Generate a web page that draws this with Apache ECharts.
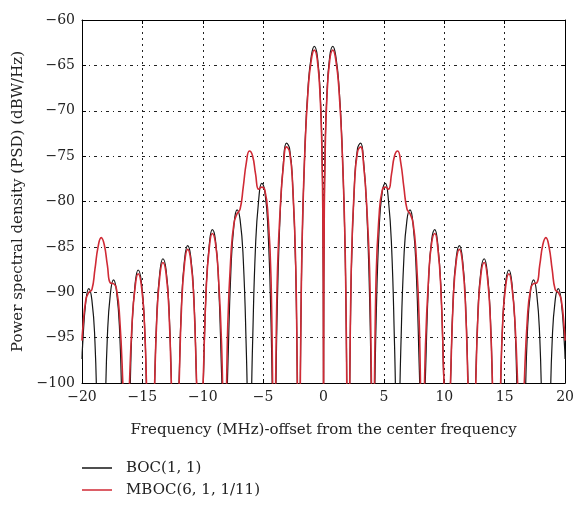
<!DOCTYPE html>
<html><head><meta charset="utf-8">
<script src="https://cdn.jsdelivr.net/npm/echarts@6/dist/echarts.min.js"></script>
<style>html,body{margin:0;padding:0;background:#fff}#c{width:577px;height:505px}</style>
</head><body><div id="c"></div>
<script>
// Frequency offset (MHz)
const freq = [-20, -19.95, -19.69, -19.44, -19.18, -18.93, -18.67, -18.41, -18.16, -17.90, -17.65, -17.39, -17.14, -16.88, -16.62, -16.37, -16.11, -15.86, -15.60, -15.35, -15.09, -14.83, -14.58, -14.32, -14.07, -13.81, -13.56, -13.30, -13.04, -12.79, -12.53, -12.28, -12.02, -11.76, -11.51, -11.25, -11.00, -10.74, -10.49, -10.23, -9.97, -9.72, -9.46, -9.21, -8.95, -8.70, -8.44, -8.18, -7.93, -7.67, -7.42, -7.16, -6.91, -6.65, -6.39, -6.14, -5.88, -5.63, -5.37, -5.12, -4.86, -4.60, -4.35, -4.09, -3.84, -3.58, -3.32, -3.07, -2.81, -2.56, -2.30, -2.05, -1.79, -1.53, -1.28, -1.02, -0.77, -0.51, -0.26, -0.13, -0.06, -0.01, 0,
  0.01, 0.06, 0.13, 0.26, 0.51, 0.77, 1.02, 1.28, 1.53, 1.79, 2.05, 2.30, 2.56, 2.81, 3.07, 3.32, 3.58, 3.84, 4.09, 4.35, 4.60, 4.86, 5.12, 5.37, 5.63, 5.88, 6.14, 6.39, 6.65, 6.91, 7.16, 7.42, 7.67, 7.93, 8.18, 8.44, 8.70, 8.95, 9.21, 9.46, 9.72, 9.97, 10.23, 10.49, 10.74, 11.00, 11.25, 11.51, 11.76, 12.02, 12.28, 12.53, 12.79, 13.04, 13.30, 13.56, 13.81, 14.07, 14.32, 14.58, 14.83, 15.09, 15.35, 15.60, 15.86, 16.11, 16.37, 16.62, 16.88, 17.14, 17.39, 17.65, 17.90, 18.16, 18.41, 18.67, 18.93, 19.18, 19.44, 19.69, 19.95, 20];

// BOC(1,1) PSD (dBW/Hz)
const bocPsd = [-97.35, -95.85, -91.10, -89.61, -90.87, -95.39, -105.95, -110, -105.70, -94.91, -90.15, -88.64, -89.89, -94.40, -104.94, -110, -104.67, -93.86, -89.08, -87.55, -88.79, -93.28, -103.80, -110, -103.49, -92.66, -87.85, -86.31, -87.52, -91.99, -102.48, -110, -102.12, -91.26, -86.43, -84.86, -86.04, -90.47, -100.93, -110, -100.50, -89.60, -84.73, -83.11, -84.25, -88.64, -99.05, -110, -98.51, -87.55, -82.62, -80.93, -82.00, -86.31, -96.64, -110, -95.91, -84.86, -79.81, -78.01, -78.94, -83.11, -93.29, -110, -92.20, -80.93, -75.65, -73.57, -74.20, -78.01, -87.76, -110, -85.58, -73.57, -67.35, -64.03, -62.91, -64.03, -68.68, -74.4, -80.8, -96.4, -110,
  -96.4, -80.8, -74.4, -68.68, -64.03, -62.91, -64.03, -67.35, -73.57, -85.58, -110, -87.76, -78.01, -74.20, -73.57, -75.65, -80.93, -92.20, -110, -93.29, -83.11, -78.94, -78.01, -79.81, -84.86, -95.91, -110, -96.64, -86.31, -82.00, -80.93, -82.62, -87.55, -98.51, -110, -99.05, -88.64, -84.25, -83.11, -84.73, -89.60, -100.50, -110, -100.93, -90.47, -86.04, -84.86, -86.43, -91.26, -102.12, -110, -102.48, -91.99, -87.52, -86.31, -87.85, -92.66, -103.49, -110, -103.80, -93.28, -88.79, -87.55, -89.08, -93.86, -104.67, -110, -104.94, -94.40, -89.89, -88.64, -90.15, -94.91, -105.70, -110, -105.95, -95.39, -90.87, -89.61, -91.10, -95.85, -97.35];

// MBOC(6,1,1/11) PSD (dBW/Hz)
const mbocPsd = [-95.33, -94.26, -90.90, -90.02, -89.71, -87.49, -85.00, -83.98, -84.74, -87.01, -88.99, -89.05, -89.69, -92.81, -100.04, -110, -101.4, -93.59, -89.40, -87.96, -89.19, -93.45, -103.2, -110, -103.3, -93.0, -88.26, -86.72, -87.93, -92.40, -102.89, -110, -102.53, -91.67, -86.84, -85.27, -86.44, -90.80, -100.8, -110, -99.9, -89.76, -85.09, -83.52, -84.56, -88.37, -95.83, -110, -93.60, -85.96, -82.43, -81.34, -80.84, -78.41, -75.68, -74.43, -74.95, -76.96, -78.65, -78.42, -78.75, -81.52, -88.38, -110, -88.98, -80.66, -75.97, -73.98, -74.55, -78.17, -87.16, -110, -85.41, -73.90, -67.75, -64.44, -63.32, -64.44, -69.08, -74.8, -81.2, -96.8, -110,
  -96.8, -81.2, -74.8, -69.08, -64.44, -63.32, -64.44, -67.75, -73.90, -85.41, -110, -87.16, -78.17, -74.55, -73.98, -75.97, -80.66, -88.98, -110, -88.38, -81.52, -78.75, -78.42, -78.65, -76.96, -74.95, -74.43, -75.68, -78.41, -80.84, -81.34, -82.43, -85.96, -93.60, -110, -95.83, -88.37, -84.56, -83.52, -85.09, -89.76, -99.9, -110, -100.8, -90.80, -86.44, -85.27, -86.84, -91.67, -102.53, -110, -102.89, -92.40, -87.93, -86.72, -88.26, -93.0, -103.3, -110, -103.2, -93.45, -89.19, -87.96, -89.40, -93.59, -101.4, -110, -100.04, -92.81, -89.69, -89.05, -88.99, -87.01, -84.74, -83.98, -85.00, -87.49, -89.71, -90.02, -90.90, -94.26, -95.33];

const seriesNames = ['BOC(1, 1)', 'MBOC(6, 1, 1/11)'];
const xTicks = [-20, -15, -10, -5, 0, 5, 10, 15, 20];
const yTicks = [-100, -95, -90, -85, -80, -75, -70, -65, -60];

const FONT = 'DejaVu Serif';
const minus = v => String(v).replace('-', '\u2212');
const chart = echarts.init(document.getElementById('c'));
const axisLine = {show: true, onZero: false, lineStyle: {color: '#000', width: 1}};
const tick = {show: true, inside: true, length: 4, lineStyle: {color: '#000'}};
chart.setOption({
  animation: false,
  backgroundColor: '#fff',
  grid: {left: 82, right: 9, top: 20, bottom: 122},
  legend: {
    orient: 'vertical', left: 82, top: 459, itemWidth: 30, itemHeight: 1.5, itemGap: 4,
    icon: 'rect', padding: 0,
    data: seriesNames,
    textStyle: {fontFamily: FONT, fontSize: 15, color: '#222', padding: [0, 0, 0, 9], lineHeight: 18}
  },
  xAxis: [{
    type: 'value', min: xTicks[0], max: xTicks[xTicks.length - 1], interval: 5,
    axisLine, axisTick: tick,
    axisLabel: {formatter: minus, fontFamily: FONT, fontSize: 14, color: '#222', margin: 7},
    splitLine: {show: true, lineStyle: {type: [2, 4], color: '#222', width: 1}},
    name: 'Frequency (MHz)-offset from the center frequency',
    nameLocation: 'middle', nameGap: 40,
    nameTextStyle: {fontFamily: FONT, fontSize: 15, color: '#222'}
  }, {
    type: 'value', position: 'top', min: xTicks[0], max: xTicks[xTicks.length - 1], interval: 5,
    axisLine, axisTick: tick, axisLabel: {show: false}, splitLine: {show: false}
  }],
  yAxis: [{
    type: 'value', min: yTicks[0], max: yTicks[yTicks.length - 1], interval: 5,
    axisLine, axisTick: tick,
    axisLabel: {formatter: minus, fontFamily: FONT, fontSize: 14, color: '#222', margin: 7},
    splitLine: {show: true, lineStyle: {type: [3, 4, 1, 4], color: '#222', width: 1}},
    name: 'Power spectral density (PSD) (dBW/Hz)',
    nameLocation: 'middle', nameGap: 53,
    nameTextStyle: {fontFamily: FONT, fontSize: 15, color: '#222'}
  }, {
    type: 'value', position: 'right', min: yTicks[0], max: yTicks[yTicks.length - 1], interval: 5,
    axisLine, axisTick: tick, axisLabel: {show: false}, splitLine: {show: false}
  }],
  series: [{
    name: seriesNames[0], type: 'line', symbol: 'none', smooth: 0.5, clip: true,
    data: freq.map((f, i) => [f, bocPsd[i]]),
    lineStyle: {color: '#151515', width: 1.2}, itemStyle: {color: '#151515'}, z: 2
  }, {
    name: seriesNames[1], type: 'line', symbol: 'none', smooth: 0.5, clip: true,
    data: freq.map((f, i) => [f, mbocPsd[i]]),
    lineStyle: {color: '#d02a35', width: 1.6}, itemStyle: {color: '#d02a35'}, z: 3
  }]
});
</script>
</body></html>
